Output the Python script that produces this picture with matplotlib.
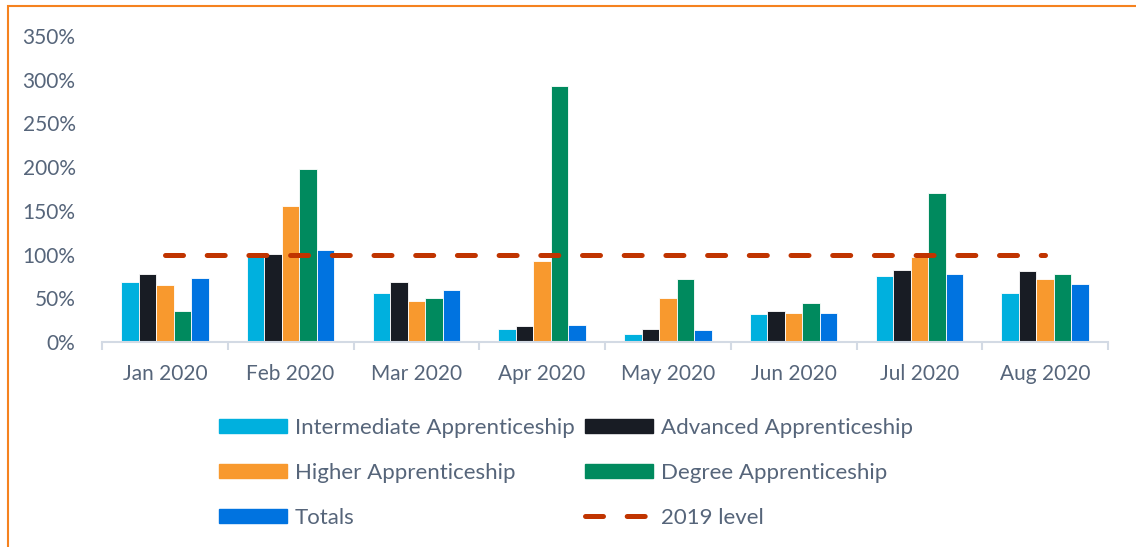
import matplotlib
matplotlib.use("Agg")
import matplotlib.pyplot as plt
import numpy as np
from matplotlib.patches import Rectangle
from matplotlib.lines import Line2D
from matplotlib.patches import Patch

months = ["Jan 2020", "Feb 2020", "Mar 2020", "Apr 2020", "May 2020", "Jun 2020", "Jul 2020", "Aug 2020"]
series_names = ["Intermediate Apprenticeship", "Advanced Apprenticeship", "Higher Apprenticeship",
                "Degree Apprenticeship", "Totals"]
intermediate = [69, 99, 56, 15, 9, 32, 75, 56]
advanced = [78, 101, 69, 18, 15, 35, 82, 81]
higher = [65, 156, 47, 93, 50, 33, 97, 72]
degree = [36, 198, 50, 293, 72, 45, 170, 78]
totals = [73, 105, 60, 20, 14, 33, 78, 66]
level_2019 = [100] * len(months)
yticks = [0, 50, 100, 150, 200, 250, 300, 350]

colors = ["#00B0DE", "#181C24", "#F8992E", "#008A5E", "#0073E0"]
line_color = "#C03400"
text_color = "#56657A"
dash_style = (0, (3.6, 4.74))

plt.rcParams["font.family"] = ["Lato", "DejaVu Sans"]

fig = plt.figure(figsize=(11.36, 5.47), dpi=100)
ax = fig.add_axes([102 / 1136, 205 / 547, 1006 / 1136, 306 / 547])

x = np.arange(len(months))
w = 0.139
data = [intermediate, advanced, higher, degree, totals]
for k, (vals, c, name) in enumerate(zip(data, colors, series_names)):
    ax.bar(x + (k - 2) * w, vals, width=w, color=c, edgecolor="#FFFFFF", linewidth=0.6, label=name, zorder=2)

ax.plot(x, level_2019, color=line_color, linewidth=3.6, dash_capstyle="round",
        linestyle=dash_style, label="2019 level", zorder=3)

ax.set_xlim(-0.5, len(months) - 0.5)
ax.set_ylim(0, 350)
ax.set_yticks(yticks)
ax.set_yticklabels([f"{v}%" for v in yticks])
ax.set_xticks(x)
ax.set_xticklabels(months)
ax.set_xticks(np.arange(len(months) + 1) - 0.5, minor=True)

for s in ["top", "right", "left"]:
    ax.spines[s].set_visible(False)
ax.spines["bottom"].set_color("#D3DAE4")
ax.spines["bottom"].set_linewidth(1.5)
ax.tick_params(axis="y", length=0, pad=19, labelsize=15, labelcolor=text_color)
ax.tick_params(axis="x", which="major", length=0, pad=16, labelsize=15, labelcolor=text_color)
ax.tick_params(axis="x", which="minor", length=6, width=1.5, color="#D3DAE4")

leg_handles = [Patch(color=colors[0]), Patch(color=colors[2]), Patch(color=colors[4]),
               Patch(color=colors[1]), Patch(color=colors[3]),
               Line2D([0], [0], color=line_color, linewidth=3.6, dash_capstyle="round",
                      linestyle=dash_style)]
leg_labels = [series_names[0], series_names[2], series_names[4], series_names[1], series_names[3], "2019 level"]
fig.legend(leg_handles, leg_labels, ncol=2, loc="upper left", bbox_to_anchor=(199 / 1136, 1 - 398 / 547),
           frameon=False, fontsize=16, labelcolor=text_color, handlelength=3.06, handleheight=0.63,
           handletextpad=0.36, columnspacing=0.45, labelspacing=1.12)

fig.patches.append(Rectangle((8 / 1136, -0.05), 1.2, 1 - 6 / 547 + 0.05, transform=fig.transFigure,
                             fill=False, edgecolor="#F5821F", linewidth=1.5, zorder=0))

fig.savefig("out.png", dpi=100)
